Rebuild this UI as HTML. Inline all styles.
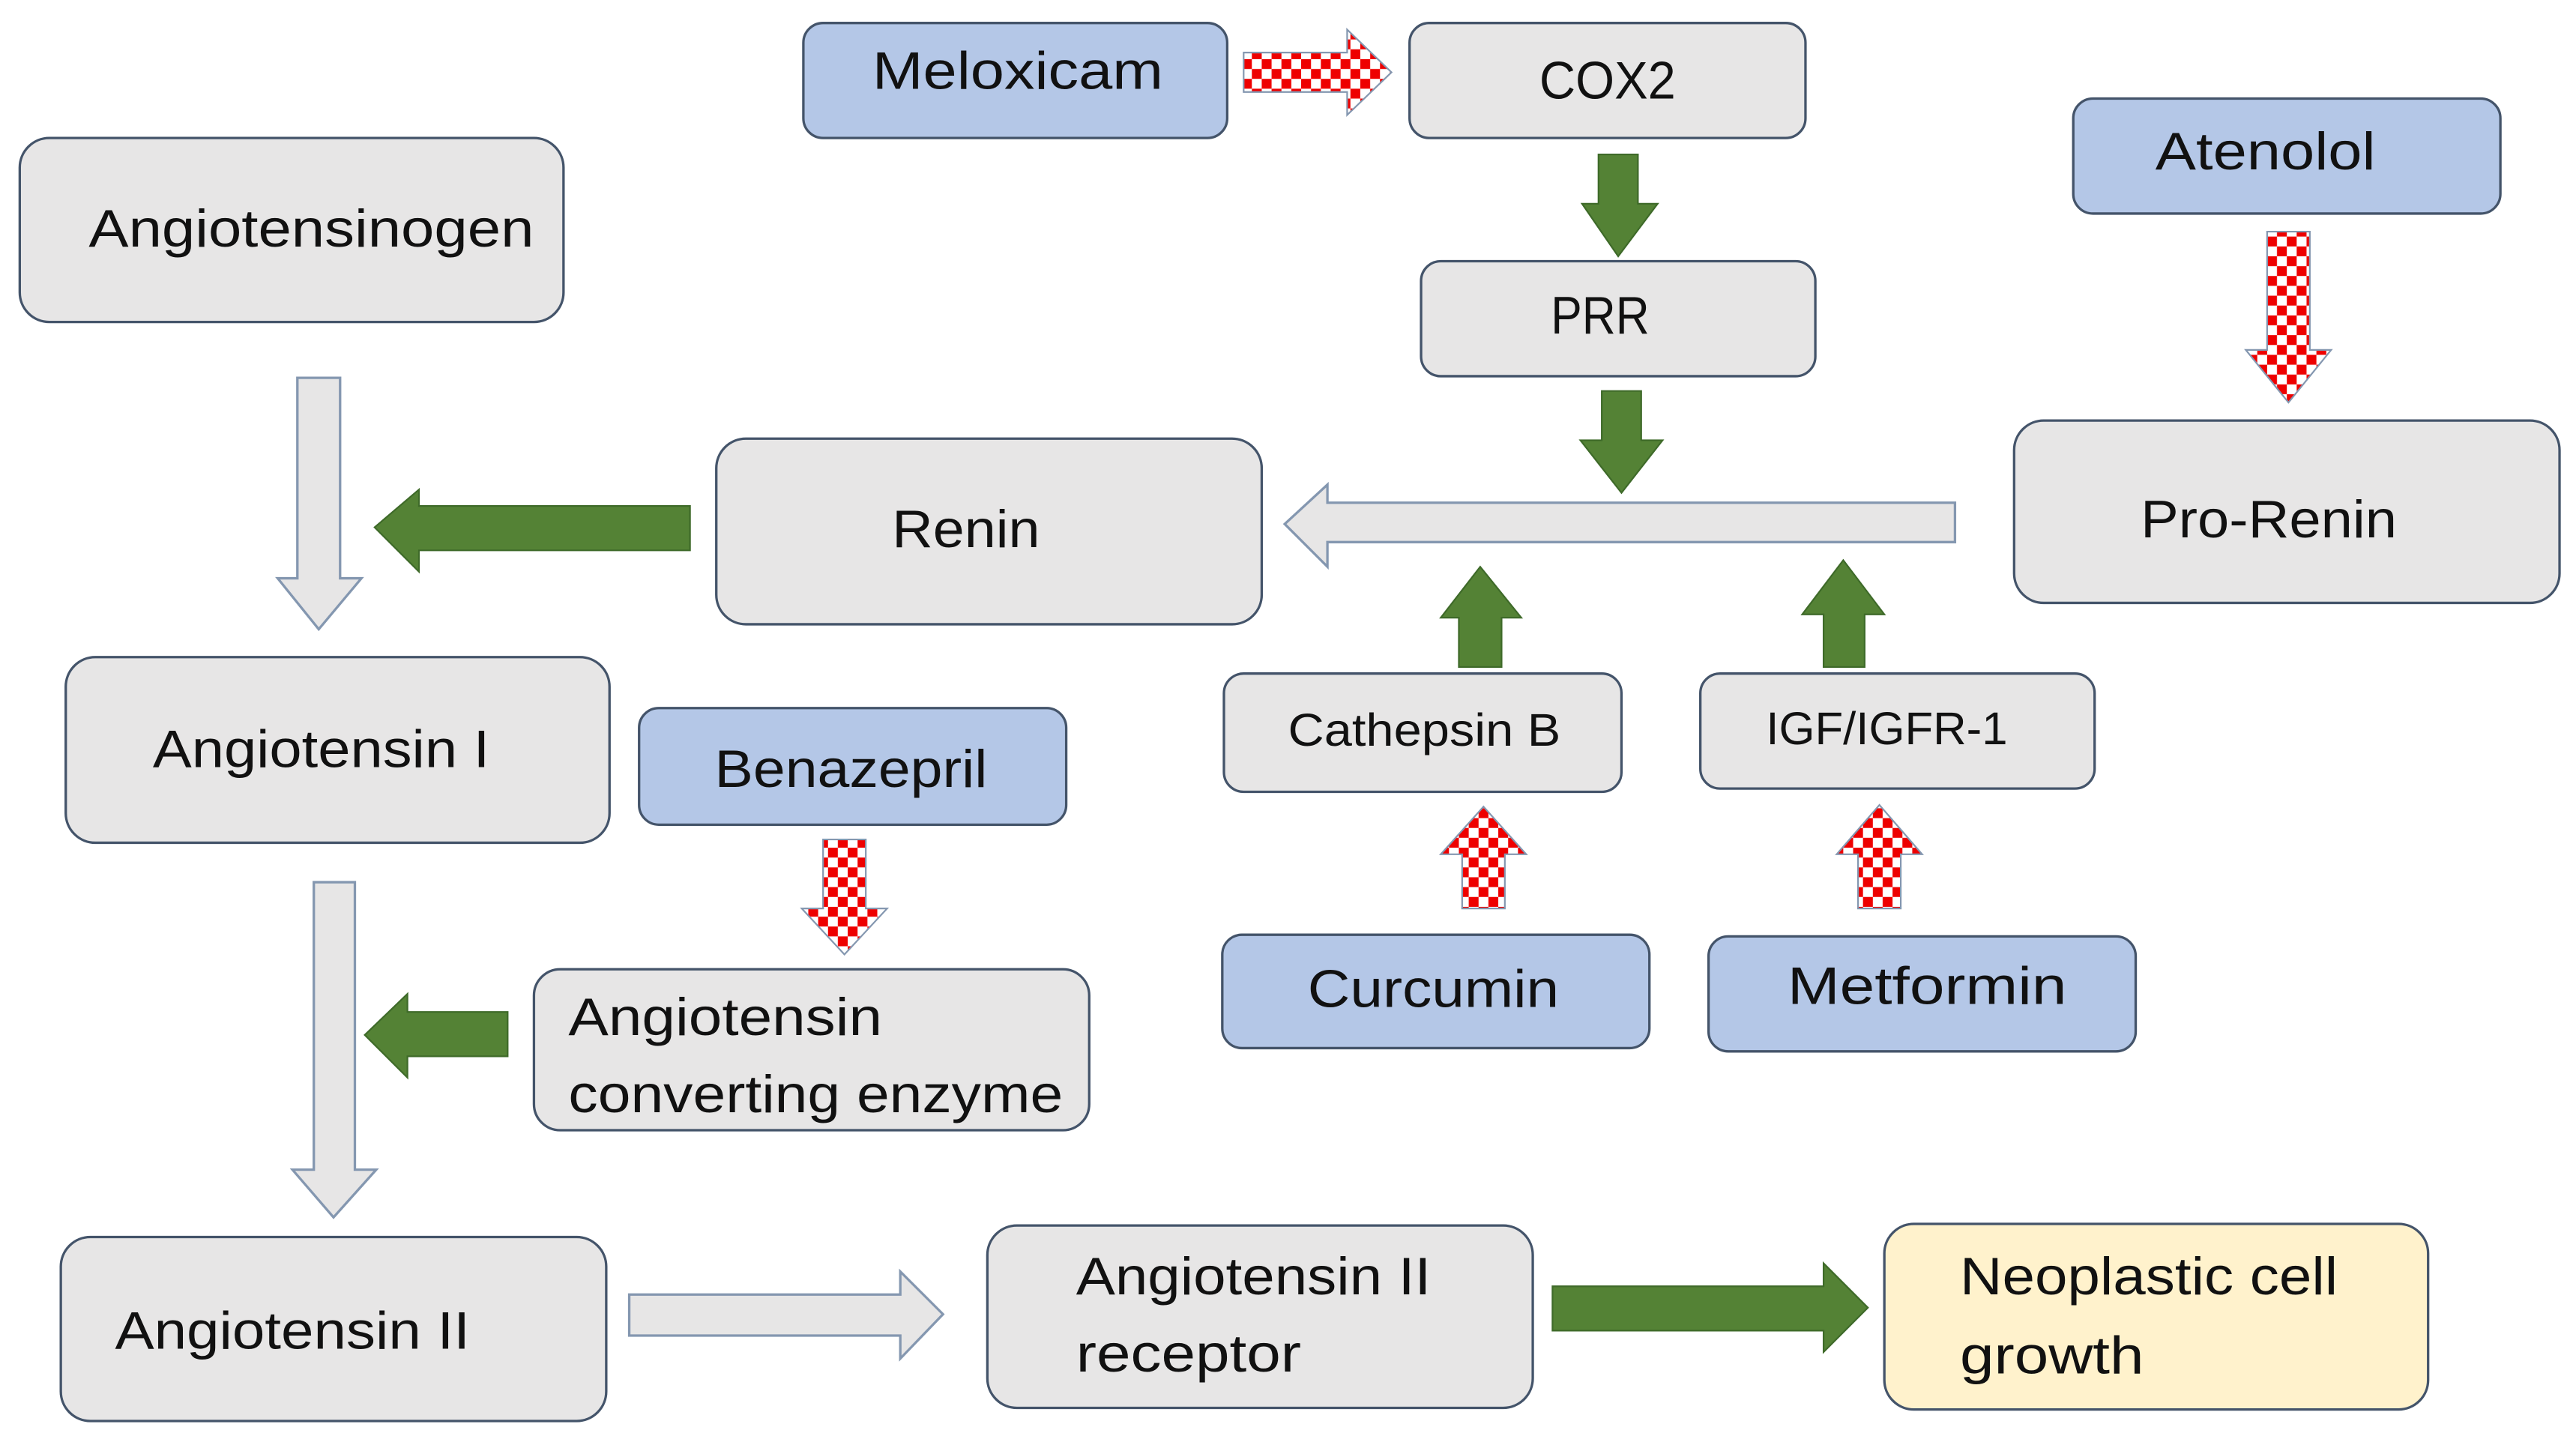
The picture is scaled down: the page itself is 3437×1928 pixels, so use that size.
<!DOCTYPE html>
<html><head><meta charset="utf-8"><style>html,body{margin:0;padding:0;background:#fff}svg{display:block}</style></head>
<body>
<svg width="3437" height="1928" viewBox="0 0 1568 879.6" xmlns="http://www.w3.org/2000/svg">
<defs>
<pattern id="ck" width="12" height="12" patternUnits="userSpaceOnUse">
<rect width="12" height="12" fill="#fff"/><rect width="6" height="6" fill="#e00"/><rect x="6" y="6" width="6" height="6" fill="#e00"/>
</pattern>
</defs>
<g stroke="#44546a" stroke-width="1.5">
<rect x="489" y="14" width="258" height="70" rx="12" fill="#b4c7e7"/>
<rect x="858" y="14" width="241" height="70" rx="12" fill="#e7e6e6"/>
<rect x="1262" y="60" width="260" height="70" rx="12" fill="#b4c7e7"/>
<rect x="12" y="84" width="331" height="112" rx="18" fill="#e7e6e6"/>
<rect x="865" y="159" width="240" height="70" rx="12" fill="#e7e6e6"/>
<rect x="436" y="267" width="332" height="113" rx="18" fill="#e7e6e6"/>
<rect x="1226" y="256" width="332" height="111" rx="18" fill="#e7e6e6"/>
<rect x="40" y="400" width="331" height="113" rx="18" fill="#e7e6e6"/>
<rect x="389" y="431" width="260" height="71" rx="12" fill="#b4c7e7"/>
<rect x="745" y="410" width="242" height="72" rx="12" fill="#e7e6e6"/>
<rect x="1035" y="410" width="240" height="70" rx="12" fill="#e7e6e6"/>
<rect x="744" y="569" width="260" height="69" rx="12" fill="#b4c7e7"/>
<rect x="1040" y="570" width="260" height="70" rx="12" fill="#b4c7e7"/>
<rect x="325" y="590" width="338" height="98" rx="16" fill="#e7e6e6"/>
<rect x="37" y="753" width="332" height="112" rx="18" fill="#e7e6e6"/>
<rect x="601" y="746" width="332" height="111" rx="18" fill="#e7e6e6"/>
<rect x="1147" y="745" width="331" height="113" rx="18" fill="#fff2cc"/>
</g>
<!-- hollow arrows -->
<g fill="#e7e6e6" stroke="#8497b0" stroke-width="1.5">
<polygon points="1190,306 808,306 808,295 782,319 808,345 808,330 1190,330"/>
<polygon points="181,230 207,230 207,352 220,352 194,383 169,352 181,352"/>
<polygon points="191,537 216,537 216,712 229,712 203,741 178,712 191,712"/>
<polygon points="383,788 548,788 548,774 574,800 548,827 548,813 383,813"/>
</g>
<!-- green arrows -->
<g fill="#548235" stroke="#3e6a29" stroke-width="1">
<polygon points="973,94 997,94 997,124 1009,124 985,156 963,124 973,124"/>
<polygon points="975,238 999,238 999,268 1012,268 987,300 962,268 975,268"/>
<polygon points="888,406 914,406 914,376 926,376 901,345 877,376 888,376"/>
<polygon points="1110,406 1135,406 1135,374 1147,374 1122,341 1097,374 1110,374"/>
<polygon points="420,308 255,308 255,298 228,321 255,348 255,335 420,335"/>
<polygon points="309,616 248,616 248,605 222,630 248,656 248,643 309,643"/>
<polygon points="945,783 1110,783 1110,769 1137,796 1110,823 1110,810 945,810"/>
</g>
<!-- checker arrows -->
<g fill="url(#ck)" stroke="#8497b0" stroke-width="1">
<polygon points="757,32 820,32 820,18 847,44 820,70 820,56 757,56"/>
<polygon points="890,553 916,553 916,520 929,520 903,491 877,520 890,520"/>
<polygon points="1131,553 1157,553 1157,520 1170,520 1144,490 1118,520 1131,520"/>
<polygon points="1380,141 1406,141 1406,213 1419,213 1393,245 1367,213 1380,213"/>
<polygon points="501,511 527,511 527,553 540,553 514,581 488,553 501,553"/>
</g>
<g font-family="Liberation Sans, sans-serif" font-size="32" fill="#111" lengthAdjust="spacingAndGlyphs">
<text x="531" y="54" textLength="177" lengthAdjust="spacingAndGlyphs">Meloxicam</text>
<text x="937" y="60" textLength="83" lengthAdjust="spacingAndGlyphs">COX2</text>
<text x="1312" y="103" textLength="134" lengthAdjust="spacingAndGlyphs">Atenolol</text>
<text x="54" y="150" textLength="271" lengthAdjust="spacingAndGlyphs">Angiotensinogen</text>
<text x="944" y="203" textLength="60" lengthAdjust="spacingAndGlyphs">PRR</text>
<text x="543" y="333" textLength="90" lengthAdjust="spacingAndGlyphs">Renin</text>
<text x="1303" y="327" textLength="156" lengthAdjust="spacingAndGlyphs">Pro-Renin</text>
<text x="93" y="467" textLength="205" lengthAdjust="spacingAndGlyphs">Angiotensin I</text>
<text x="435" y="479" textLength="166" lengthAdjust="spacingAndGlyphs">Benazepril</text>
<text x="784" y="454" font-size="28" textLength="166" lengthAdjust="spacingAndGlyphs">Cathepsin B</text>
<text x="1075" y="453" font-size="28" textLength="147" lengthAdjust="spacingAndGlyphs">IGF/IGFR-1</text>
<text x="796" y="613" textLength="153" lengthAdjust="spacingAndGlyphs">Curcumin</text>
<text x="1088" y="611" textLength="170" lengthAdjust="spacingAndGlyphs">Metformin</text>
<text x="346" y="630" textLength="191" lengthAdjust="spacingAndGlyphs">Angiotensin</text>
<text x="346" y="677" textLength="301" lengthAdjust="spacingAndGlyphs">converting enzyme</text>
<text x="70" y="821" textLength="216" lengthAdjust="spacingAndGlyphs">Angiotensin II</text>
<text x="655" y="788" textLength="216" lengthAdjust="spacingAndGlyphs">Angiotensin II</text>
<text x="655" y="835" textLength="137" lengthAdjust="spacingAndGlyphs">receptor</text>
<text x="1193" y="788" textLength="230" lengthAdjust="spacingAndGlyphs">Neoplastic cell</text>
<text x="1193" y="836" textLength="112" lengthAdjust="spacingAndGlyphs">growth</text>
</g>
</svg>
</body></html>
